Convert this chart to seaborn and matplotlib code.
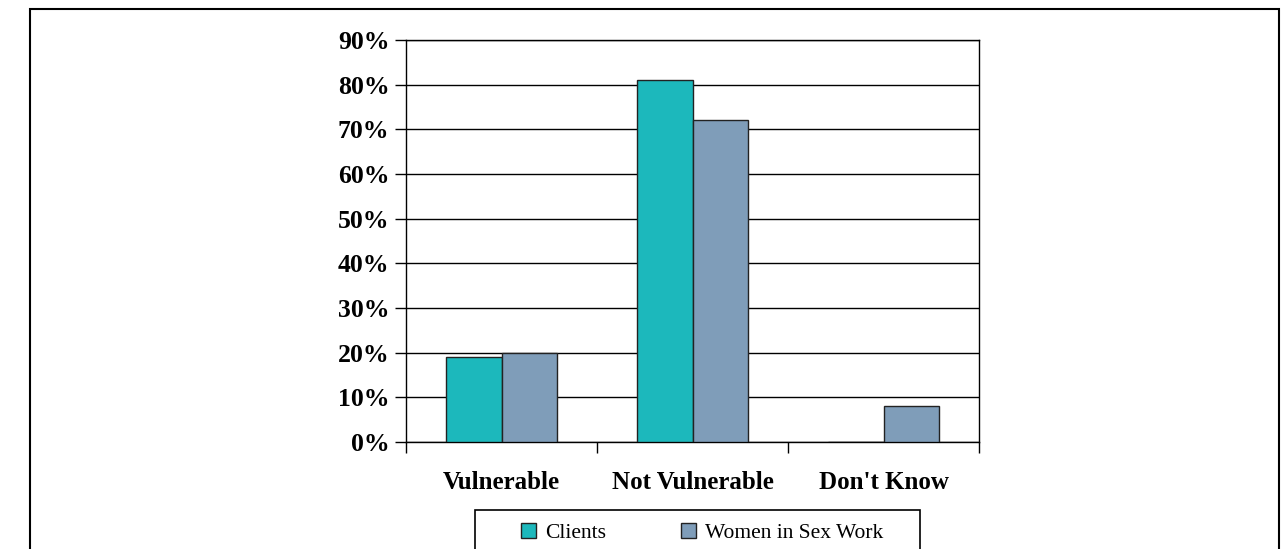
import pandas as pd
import numpy as np
import matplotlib.pyplot as plt
import seaborn as sns
from matplotlib.patches import Rectangle

categories = ["Vulnerable", "Not Vulnerable", "Don't Know"]
clients = [19, 81, 0]
women_sex_work = [20, 72, 8]
series_names = ["Clients", "Women in Sex Work"]
y_ticks = [0, 10, 20, 30, 40, 50, 60, 70, 80, 90]

COLORS = {"Clients": "#1CB8BC", "Women in Sex Work": "#7F9DB9"}

df = pd.DataFrame({
    "category": categories * 2,
    "series": [series_names[0]] * 3 + [series_names[1]] * 3,
    "value": clients + women_sex_work,
})

sns.set_theme(style="white")
plt.rcParams["font.family"] = ["Liberation Serif", "DejaVu Serif"]
plt.rcParams["text.color"] = "black"
plt.rcParams["xtick.color"] = "black"
plt.rcParams["ytick.color"] = "black"

fig = plt.figure(figsize=(12.87, 5.49), dpi=100)
ax = fig.add_axes([406 / 1287, 1 - 442 / 549, (979 - 406) / 1287, (442 - 40) / 549])

sns.barplot(data=df, x="category", y="value", hue="series", order=categories,
            hue_order=series_names, palette=COLORS, width=0.577,
            edgecolor="#222222", linewidth=1.0, saturation=1, ax=ax, zorder=3)

ax.set_ylim(0, 90)
ax.set_xlim(-0.5, 2.5)
ax.set_yticks(y_ticks)
ax.set_yticklabels([f"{t}%" for t in y_ticks], fontsize=18.5, fontweight="bold", color="black")
ax.yaxis.grid(True, color="black", linewidth=1.0, zorder=0)
ax.set_axisbelow(True)

# category labels between boundary ticks
ax.set_xticks([-0.5, 0.5, 1.5, 2.5])
ax.set_xticklabels([])
ax.set_xticks([0, 1, 2], minor=True)
ax.set_xticklabels(categories, minor=True, fontsize=18, fontweight="bold", color="black")
ax.tick_params(axis="x", which="major", bottom=True, direction="out", length=8, width=1, color="black")
ax.tick_params(axis="x", which="minor", bottom=True, length=0, pad=21)
ax.tick_params(axis="y", left=True, direction="out", length=8, width=1, color="black", pad=4)
ax.set_xlabel("")
ax.set_ylabel("")

for side in ["left", "right", "bottom", "top"]:
    ax.spines[side].set_visible(True)
    ax.spines[side].set_color("black")
    ax.spines[side].set_linewidth(1.0)

handles, labels = ax.get_legend_handles_labels()
ax.get_legend().remove()
fig.legend(handles, labels, ncol=2, frameon=False, loc="center",
           bbox_to_anchor=(702 / 1287, 1 - 533 / 549), fontsize=15.5,
           handlelength=0.7, handleheight=0.7, handletextpad=0.4, columnspacing=3.5)

# legend frame, cut off at the bottom edge like the reference
fig.add_artist(Rectangle((475 / 1287, -0.05), (920 - 475) / 1287, 0.05 + 1 - 510 / 549,
                         transform=fig.transFigure, fill=False, edgecolor="black", linewidth=1.2))
# outer chart border
fig.add_artist(Rectangle((30 / 1287, -0.05), (1279 - 30) / 1287, 0.05 + 1 - 9 / 549,
                         transform=fig.transFigure, fill=False, edgecolor="black", linewidth=1.5))

plt.savefig("out.png", dpi=100)
plt.close()
